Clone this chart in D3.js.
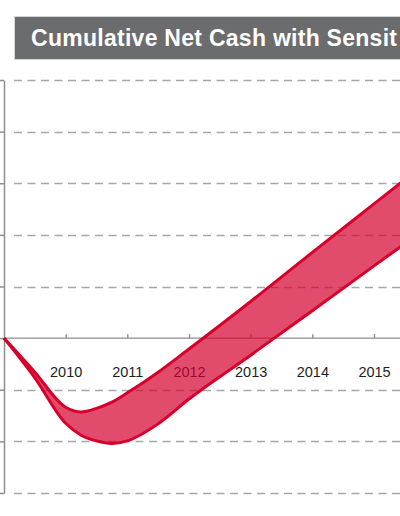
<!DOCTYPE html>
<html>
<head>
<meta charset="utf-8">
<script src="https://cdn.jsdelivr.net/npm/d3@7"></script>
<style>
html,body{margin:0;padding:0;background:#fff;overflow:hidden;}
svg{display:block;}
</style>
</head>
<body>
<svg id="chart" width="400" height="516"></svg>
<script>
const title = "Cumulative Net Cash with Sensit";
const years = [2009, 2009.5, 2010, 2010.25, 2010.5, 2010.75, 2011, 2011.5, 2012, 2013, 2014, 2015, 2015.5];
const upperValues = [0, -0.66, -1.34, -1.43, -1.36, -1.24, -1.06, -0.66, -0.21, 0.71, 1.66, 2.60, 3.07];
const lowerValues = [0, -0.77, -1.65, -1.88, -1.99, -2.04, -1.99, -1.66, -1.18, -0.33, 0.53, 1.40, 1.83];
const tickYears = [2010, 2011, 2012, 2013, 2014, 2015];
const gridValues = [-3, -2, -1, 1, 2, 3, 4, 5];

const svg = d3.select("#chart");
const font = "'Liberation Sans', Arial, sans-serif";

const x = d3.scaleLinear().domain([2009, 2015]).range([4, 374]);
const y = d3.scaleLinear().domain([-3, 5]).range([493, 80]);

// title box
svg.append("rect").attr("x", 14.5).attr("y", 16.5).attr("width", 400).attr("height", 43)
  .attr("fill", "#6b6c6e").attr("stroke", "#d6d6d6").attr("stroke-width", 1);
svg.append("text").attr("x", 31).attr("y", 46).text(title)
  .attr("font-family", font).attr("font-weight", "bold").attr("font-size", 23)
  .attr("textLength", 366).attr("lengthAdjust", "spacing").attr("fill", "#fff");

// gridlines
svg.append("g").selectAll("line").data(gridValues).join("line")
  .attr("x1", 14).attr("x2", 400)
  .attr("y1", d => Math.round(y(d)) + 0.5).attr("y2", d => Math.round(y(d)) + 0.5)
  .attr("stroke", "#a6a6a6").attr("stroke-width", 1.3).attr("stroke-dasharray", "8,5.5");

// y axis
const yAxis = d3.axisLeft(y).tickValues(d3.range(-3, 6)).tickSizeInner(4).tickSizeOuter(0).tickFormat("");
const gy = svg.append("g").attr("transform", "translate(4,0)").call(yAxis);
gy.selectAll("path,line").attr("stroke", "#8e8e8e").attr("stroke-width", 1.5);

// x axis line
svg.append("line").attr("x1", 4).attr("x2", 400).attr("y1", y(0)).attr("y2", y(0))
  .attr("stroke", "#8e8e8e").attr("stroke-width", 1.4);
const xAxis = d3.axisBottom(x).tickValues(tickYears).tickSizeInner(-4).tickSizeOuter(0)
  .tickPadding(28.5).tickFormat(d3.format("d"));
const gx = svg.append("g").attr("transform", `translate(0,${y(0)})`).call(xAxis);
gx.select(".domain").remove();
gx.selectAll("line").attr("stroke", "#8e8e8e").attr("stroke-width", 1.4);
gx.selectAll("text").attr("font-family", font).attr("font-size", 14.5).attr("fill", "#1e1e1e");

// band
const data = years.map((yr, i) => ({year: yr, upper: upperValues[i], lower: lowerValues[i]}));
const area = d3.area().x(d => x(d.year)).y0(d => y(d.lower)).y1(d => y(d.upper)).curve(d3.curveMonotoneX);
svg.append("path").datum(data).attr("d", area).attr("fill", "rgba(214,0,46,0.7)");
const lineU = d3.line().x(d => x(d.year)).y(d => y(d.upper)).curve(d3.curveMonotoneX);
const lineL = d3.line().x(d => x(d.year)).y(d => y(d.lower)).curve(d3.curveMonotoneX);
[lineU, lineL].forEach(l => {
  svg.append("path").datum(data).attr("d", l).attr("fill", "none")
    .attr("stroke", "#d7002c").attr("stroke-width", 3).attr("stroke-linejoin", "round");
});
</script>
</body>
</html>
